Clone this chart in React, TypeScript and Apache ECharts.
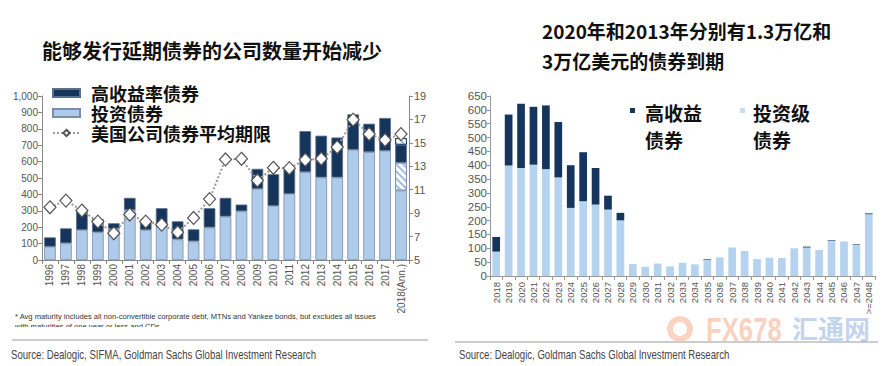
import React, { useEffect, useRef } from 'react';
import * as echarts from 'echarts';

// ---------- Left panel data ----------
const issueYears = ['1996','1997','1998','1999','2000','2001','2002','2003','2004','2005','2006','2007','2008','2009','2010','2011','2012','2013','2014','2015','2016','2017','2018(Ann.)'];
const igIssuance = [81,102,183,169,189,305,183,200,126,114,198,265,297,434,330,403,536,503,503,672,658,666,424];
const hyIssuance = [57,91,114,81,35,74,57,116,110,73,118,114,41,122,193,153,250,255,244,216,173,200,110];
const igAnnualized = ['-','-','-','-','-','-','-','-','-','-','-','-','-','-','-','-','-','-','-','-','-','-',169];
const hyAnnualized = ['-','-','-','-','-','-','-','-','-','-','-','-','-','-','-','-','-','-','-','-','-','-',40];
const avgMaturity = [9.5,10.07,9.22,8.28,7.28,8.88,8.28,8.02,7.37,8.59,10.2,13.58,13.64,11.79,12.87,12.84,13.55,13.64,14.64,16.98,15.75,15.24,15.75];

// ---------- Right panel data ----------
const maturityYears = ['2018','2019','2020','2021','2022','2023','2024','2025','2026','2027','2028','2029','2030','2031','2032','2033','2034','2035','2036','2037','2038','2039','2040','2041','2042','2043','2044','2045','2046','2047','>=2048'];
const igMaturing = [88,399,390,402,386,356,246,270,258,240,201,43,33,45,35,48,42,59,67,103,90,61,66,65,100,103,94,128,125,112,223];
const hyMaturing = [53,184,232,209,230,200,154,177,132,50,27,0,0,0,0,0,0,2,0,0,0,0,0,0,0,3,0,2,0,2,3];

const leftTitle = '能够发行延期债券的公司数量开始减少';
const rightTitle1 = '2020年和2013年分别有1.3万亿和';
const rightTitle2 = '3万亿美元的债券到期';
const footnote1 = '* Avg maturity includes all non-convertible corporate debt, MTNs and Yankee bonds, but excludes all issues';
const footnote2 = 'with maturities of one year or less and CDs';
const leftSource = 'Source: Dealogic, SIFMA, Goldman Sachs Global Investment Research';
const rightSource = 'Source: Dealogic, Goldman Sachs Global Investment Research';

const CJK = '"Noto Sans CJK SC", sans-serif';
const SANS = '"Liberation Sans", Arial, sans-serif';

const DARK = '#16355c';
const LIGHT = '#aecbeb';
const LIGHT_R = '#b5d3ef';
const BORDER = '#7b8ea8';

const hatch = {
  symbol: 'rect',
  symbolSize: 1,
  dashArrayX: [[1, 0]],
  dashArrayY: [1.2, 2.8],
  rotation: Math.PI / 4,
  color: '#9dbde2',
};

export default function App() {
  const ref = useRef<HTMLDivElement>(null);
  useEffect(() => {
    const chart = echarts.init(ref.current!, null, { renderer: 'svg' });
    const axisLbl = { color: '#555', fontFamily: SANS };
    const option: any = {
      animation: false,
      backgroundColor: '#fff',
      grid: [
        { left: 42, width: 367, top: 96, height: 164 },
        { left: 490, width: 385, top: 96, height: 180 },
      ],
      xAxis: [
        {
          type: 'category', gridIndex: 0, data: issueYears,
          axisLine: { lineStyle: { color: '#888' } },
          axisTick: { show: true, length: 4, lineStyle: { color: '#888' } },
          axisLabel: { ...axisLbl, fontSize: 10, rotate: 90, interval: 0, margin: 4 },
        },
        {
          type: 'category', gridIndex: 1, data: maturityYears,
          axisLine: { lineStyle: { color: '#999' } },
          axisTick: { show: true, length: 4, lineStyle: { color: '#999' } },
          axisLabel: { ...axisLbl, fontSize: 9.5, rotate: 90, interval: 0, margin: 6 },
        },
      ],
      yAxis: [
        {
          type: 'value', gridIndex: 0, min: 0, max: 1000, interval: 100,
          axisLine: { show: true, lineStyle: { color: '#888' } },
          axisTick: { show: true, length: 4, lineStyle: { color: '#888' } },
          splitLine: { show: false },
          axisLabel: { ...axisLbl, fontSize: 10, margin: 4, formatter: (v: number) => v.toLocaleString('en-US') },
        },
        {
          type: 'value', gridIndex: 0, position: 'right', min: 5, max: 19, interval: 2,
          axisLine: { show: true, lineStyle: { color: '#888' } },
          axisTick: { show: true, length: 4, lineStyle: { color: '#888' } },
          splitLine: { show: false },
          axisLabel: { ...axisLbl, fontSize: 11, margin: 5 },
        },
        {
          type: 'value', gridIndex: 1, min: 0, max: 650, interval: 50,
          axisLine: { show: true, lineStyle: { color: '#999' } },
          axisTick: { show: true, length: 3, lineStyle: { color: '#999' } },
          splitLine: { show: false },
          axisLabel: { ...axisLbl, fontSize: 11.5, margin: 3 },
        },
      ],
      legend: [
        {
          orient: 'vertical', left: 47, top: 79, itemGap: 2,
          itemWidth: 27, itemHeight: 8,
          selectedMode: false,
          textStyle: { fontFamily: CJK, fontSize: 18, fontWeight: 'bold', color: '#111', lineHeight: 18, padding: [0, 0, 0, 6] },
          data: [
            { name: '高收益率债券', icon: 'rect' },
            { name: '投资债券', icon: 'rect' },
            { name: '美国公司债券平均期限' },
          ],
        },
      ],
      series: [
        {
          name: '投资债券', type: 'bar', xAxisIndex: 0, yAxisIndex: 0, stack: 'L', data: igIssuance,
          barCategoryGap: '27%',
          itemStyle: { color: LIGHT, borderColor: BORDER, borderWidth: 0.8 },
        },
        {
          name: '投资债券(年化)', type: 'bar', xAxisIndex: 0, yAxisIndex: 0, stack: 'L', data: igAnnualized,
          itemStyle: { color: '#ffffff', borderColor: BORDER, borderWidth: 0.8, decal: hatch },
        },
        {
          name: '高收益率债券', type: 'bar', xAxisIndex: 0, yAxisIndex: 0, stack: 'L', data: hyIssuance,
          itemStyle: { color: DARK, borderColor: '#5a6f8c', borderWidth: 0.8 },
        },
        {
          name: '高收益率债券(年化)', type: 'bar', xAxisIndex: 0, yAxisIndex: 0, stack: 'L', data: hyAnnualized,
          itemStyle: { color: '#ffffff', borderColor: DARK, borderWidth: 0.8, decal: hatch },
        },
        {
          name: '美国公司债券平均期限', type: 'line', xAxisIndex: 0, yAxisIndex: 1, data: avgMaturity,
          symbol: 'diamond', symbolSize: [12, 13], z: 5,
          lineStyle: { type: 'dotted', color: '#9a9a9a', width: 2 },
          itemStyle: { color: '#ffffff', borderColor: '#555', borderWidth: 1.2 },
        },
        {
          name: '投资级债券', type: 'bar', xAxisIndex: 1, yAxisIndex: 2, stack: 'R', data: igMaturing,
          barCategoryGap: '38%',
          itemStyle: { color: LIGHT_R },
        },
        {
          name: '高收益债券', type: 'bar', xAxisIndex: 1, yAxisIndex: 2, stack: 'R', data: hyMaturing,
          itemStyle: { color: DARK },
        },
      ],
      graphic: [
        { type: 'text', left: 42, top: 40, style: { text: leftTitle, fontFamily: CJK, fontSize: 20, fontWeight: 'bold', fill: '#111' } },
        { type: 'text', left: 542, top: 21, style: { text: rightTitle1, fontFamily: CJK, fontSize: 19, fontWeight: 'bold', fill: '#111' } },
        { type: 'text', left: 542, top: 51, style: { text: rightTitle2, fontFamily: CJK, fontSize: 19, fontWeight: 'bold', fill: '#111' } },
        // right legend
        { type: 'rect', shape: { x: 630, y: 108, width: 5, height: 5 }, style: { fill: DARK } },
        { type: 'text', left: 645, top: 99, style: { text: '高收益\n债券', fontFamily: CJK, fontSize: 19, fontWeight: 'bold', lineHeight: 27, fill: '#111' } },
        { type: 'rect', shape: { x: 740, y: 108, width: 5, height: 5 }, style: { fill: '#c6dcf0' } },
        { type: 'text', left: 753, top: 99, style: { text: '投资级\n债券', fontFamily: CJK, fontSize: 19, fontWeight: 'bold', lineHeight: 27, fill: '#111' } },
        // footnotes
        { type: 'text', left: 15, top: 312, style: { text: footnote1, fontFamily: SANS, fontSize: 7.6, fill: '#333' } },
        { type: 'text', left: 15, top: 322, z: 1, style: { text: footnote2, fontFamily: SANS, fontSize: 7.6, fill: '#333' } },
        { type: 'rect', z: 2, shape: { x: 10, y: 327, width: 300, height: 8 }, style: { fill: '#fff' } },
        // separators
        { type: 'line', shape: { x1: 12, y1: 340, x2: 428, y2: 340 }, style: { stroke: '#9a9a9a', lineWidth: 1 } },
        { type: 'line', shape: { x1: 455, y1: 342, x2: 878, y2: 342 }, style: { stroke: '#9a9a9a', lineWidth: 1 } },
        // sources (condensed look via horizontal scale)
        { type: 'text', x: 11, y: 349, scaleX: 0.8, style: { text: leftSource, fontFamily: SANS, fontSize: 12, fill: '#444' } },
        { type: 'text', x: 459, y: 349, scaleX: 0.8, style: { text: rightSource, fontFamily: SANS, fontSize: 12, fill: '#444' } },
        // watermark
        { type: 'ring', z: 10, shape: { cx: 680, cy: 329, r: 13, r0: 7 }, style: { fill: '#f6b89a', opacity: 0.6 } },
        { type: 'text', z: 10, x: 706, y: 313, scaleX: 0.78, style: { text: 'FX678', fontFamily: SANS, fontSize: 33, fontWeight: 'bold', fill: '#f6a98a', opacity: 0.55 } },
        { type: 'text', z: 10, x: 792, y: 314, style: { text: '汇通网', fontFamily: CJK, fontSize: 26, fontWeight: 'bold', fill: '#8fb0dd', opacity: 0.55 } },
      ],
    };
    chart.setOption(option);
    return () => chart.dispose();
  }, []);
  return <div ref={ref} style={{ position: 'fixed', left: 0, top: 0, width: 890, height: 366, background: '#fff' }} />;
}
